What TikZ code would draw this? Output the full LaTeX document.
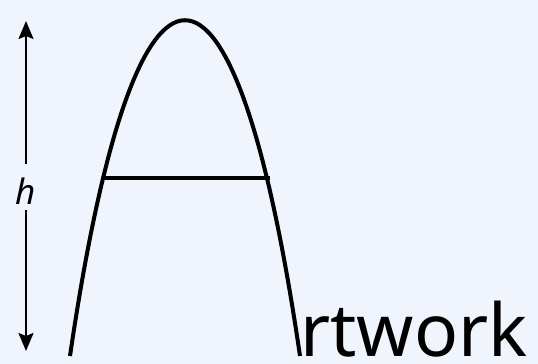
\documentclass[tikz,border=0pt]{standalone}
\usepackage{fontspec}
\setmainfont{Noto Sans}
\usetikzlibrary{arrows.meta}
\definecolor{bgc}{RGB}{240,244,252}
\begin{document}
\begin{tikzpicture}[x=1pt,y=-1pt,
  curve/.style={line width=4pt},
  dim/.style={line width=2pt},
  mytip/.tip={Stealth[length=18pt,width=15pt,inset=3pt]}]
\fill[bgc] (0,0) rectangle (538,364);
\useasboundingbox (0,0) rectangle (538,364);
\coordinate (l) at (70,356);
\coordinate (r) at (300,356);
\draw[curve] (l) .. controls (135.4,-91.7) and (234.6,-91.7) .. (r);
\coordinate (bl) at (103,178);
\coordinate (br) at (270,178);
\draw[curve] (bl) -- (br);
\node[inner sep=0pt,font=\fontsize{35}{38}\selectfont\itshape] (h) at (26,191) {h};
\coordinate (top) at (26,21);
\coordinate (bot) at (26,351);
\coordinate (ht) at (26,164);
\coordinate (hb) at (26,210);
\draw[dim,-{mytip}] (ht) -- (top);
\draw[dim,-{mytip}] (hb) -- (bot);
\node[inner sep=0pt,anchor=base west,font=\fontsize{73}{80}\selectfont] (w) at (300,356) {rtwork};
\end{tikzpicture}
\end{document}
